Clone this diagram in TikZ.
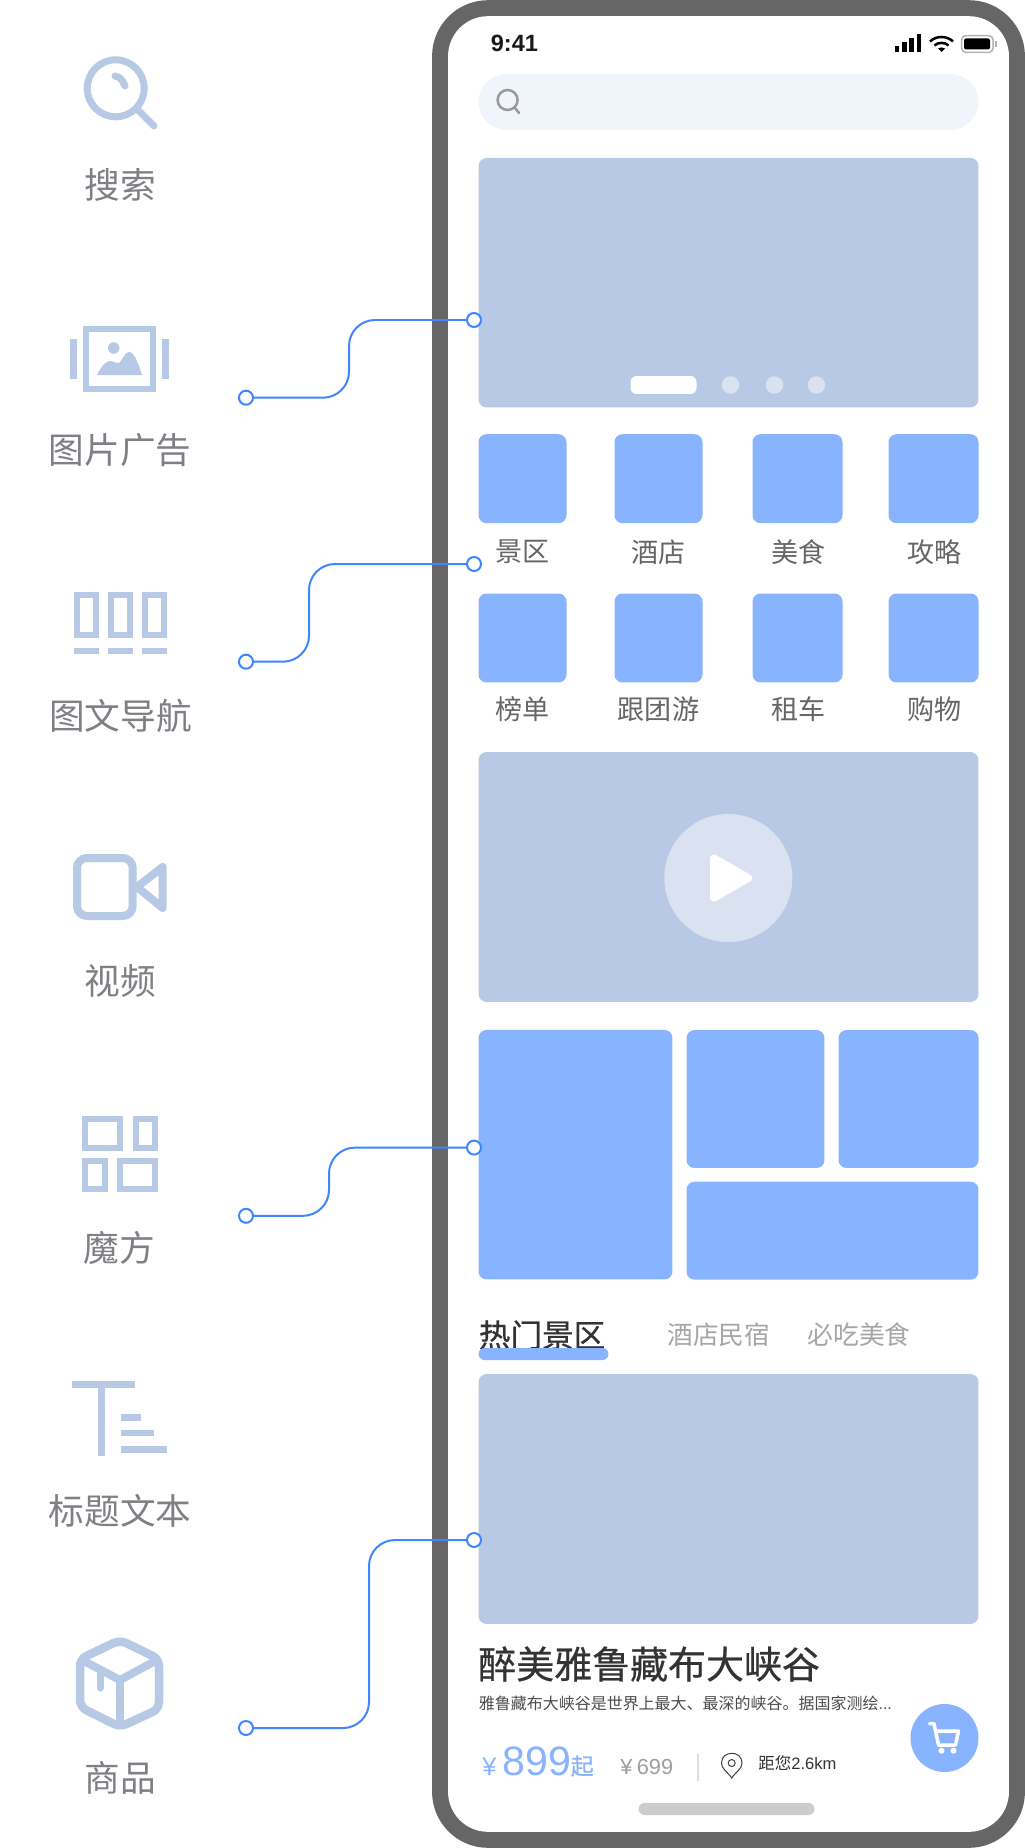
\documentclass[tikz,border=0pt]{standalone}
\usepackage{fontspec}
\setmainfont{Noto Sans CJK SC}
\newfontfamily\latinfont{Liberation Sans}
\newfontfamily\headfont[FakeBold=0.6]{Noto Sans CJK SC}
\definecolor{framegray}{HTML}{666666}
\definecolor{paleblue}{HTML}{B7C9E5}
\definecolor{softblue}{HTML}{88B3FF}
\definecolor{linkblue}{HTML}{3E85FF}
\definecolor{dotblue}{HTML}{DAE2F1}
\definecolor{barblue}{HTML}{F0F4FB}
\definecolor{labelgray}{HTML}{7F7F85}

\begin{document}
\begin{tikzpicture}[x=0.02cm,y=-0.02cm]
    \tikzset{panel/.style = {shape=rectangle, fill=paleblue, rounded corners=0.16cm, inner sep=0, outer sep=0}}
    \tikzset{tile/.style = {panel, fill=softblue}}
    \tikzset{navtile/.style = {tile, minimum width=1.76cm, minimum height=1.78cm}}
    \tikzset{pin/.style = {shape=circle, draw=linkblue, fill=white, line width=0.04cm, minimum size=0.28cm, inner sep=0, outer sep=0}}
    \tikzset{link/.style = {draw=linkblue, line width=0.04cm, rounded corners=0.52cm}}
    \tikzset{sidelabel/.style = {text=labelgray, inner sep=0, font=\fontsize{20.3}{24}\selectfont}}
    \tikzset{navlabel/.style = {text=framegray, inner sep=0, font=\fontsize{15.4}{18}\selectfont}}
    \tikzset{icon/.style = {draw=paleblue, line width=0.12cm}}
    \useasboundingbox (0,0) rectangle (1024,1848);
    \fill[white] (0,0) rectangle (1024,1848);
    % phone
    \node[panel, fill=framegray, rounded corners=1.12cm, minimum width=11.86cm, minimum height=36.96cm] (frame) at (728.5,924) {};
    \node[panel, fill=white, rounded corners=0.8cm, minimum width=11.22cm, minimum height=36.32cm] (screen) at (728.5,924) {};
    % status bar
    \node[anchor=west, inner sep=0, text=black!90, font=\latinfont\bfseries\fontsize{13.4}{16}\selectfont] (clock) at (490.5,43) {9:41};
    \fill[black] (895,45.7) rectangle (899.3,51.7);
    \fill[black] (902,41.7) rectangle (906.5,51.7);
    \fill[black] (909,38) rectangle (913.5,51.7);
    \fill[black] (917,34.3) rectangle (921.3,51.7);
    \draw[black, line width=0.05cm] (930,41.5) .. controls (936,35.5) and (947,35.5) .. (953,41.5);
    \draw[black, line width=0.05cm] (934.5,45.5) .. controls (938,42) and (945,42) .. (948.5,45.5);
    \fill[black] (938,48.5) .. controls (940,47) and (943,47) .. (945,48.5) -- (941.5,52) -- cycle;
    \draw[black!30, line width=0.03cm, rounded corners=0.08cm] (961.7,35.7) rectangle (993,52.3);
    \fill[black, rounded corners=0.04cm] (964,38.5) rectangle (990,49.5);
    \fill[black!30] (995,41) rectangle (996.5,47);
    % search bar
    \node[panel, fill=barblue, rounded corners=0.56cm, minimum width=10cm, minimum height=1.12cm] (searchbar) at (728.5,102) {};
    \draw[black!40, line width=0.05cm] (507.6,100) circle (10);
    \draw[black!40, line width=0.05cm, line cap=round] (515,108) -- (519,113);
    % banner
    \node[panel, minimum width=10cm, minimum height=4.99cm] (banner) at (728.5,282.7) {};
    \node[panel, fill=white, rounded corners=0.12cm, minimum width=1.32cm, minimum height=0.36cm] (dotlong) at (663.5,385) {};
    \node[shape=circle, fill=dotblue, minimum size=0.35cm, inner sep=0] (dota) at (730.5,385) {};
    \node[shape=circle, fill=dotblue, minimum size=0.35cm, inner sep=0] (dotb) at (774.5,385) {};
    \node[shape=circle, fill=dotblue, minimum size=0.35cm, inner sep=0] (dotc) at (816.5,385) {};
    % navigation
    \node[navtile] (scenic) at (522.5,478.7) {};
    \node[navtile] (hotel) at (658.5,478.7) {};
    \node[navtile, minimum width=1.8cm] (food) at (797.5,478.7) {};
    \node[navtile, minimum width=1.8cm] (guide) at (933.5,478.7) {};
    \node[navtile] (rank) at (522.5,638) {};
    \node[navtile] (tour) at (658.5,638) {};
    \node[navtile, minimum width=1.8cm] (rental) at (797.5,638) {};
    \node[navtile, minimum width=1.8cm] (shop) at (933.5,638) {};
    \node[navlabel] (scenictext) at (522.5,552) {景区};
    \node[navlabel] (hoteltext) at (658.5,552) {酒店};
    \node[navlabel] (foodtext) at (798.5,552) {美食};
    \node[navlabel] (guidetext) at (934.5,552) {攻略};
    \node[navlabel] (ranktext) at (522.5,709) {榜单};
    \node[navlabel] (tourtext) at (658.5,709) {跟团游};
    \node[navlabel] (rentaltext) at (798.5,709) {租车};
    \node[navlabel] (shoptext) at (934.5,709) {购物};
    % video
    \node[panel, minimum width=10cm, minimum height=5cm] (video) at (728.5,877) {};
    \node[shape=circle, fill=dotblue, minimum size=2.56cm, inner sep=0] (playdisc) at (728.3,878) {};
    \filldraw[white, line width=0.16cm, line join=round] (714,858.5) -- (748,878) -- (714,897.5) -- cycle;
    % cube
    \node[tile, minimum width=3.88cm, minimum height=4.99cm] (cubeleft) at (575.5,1154.7) {};
    \node[tile, minimum width=2.76cm, minimum height=2.76cm] (cubemid) at (755.5,1099) {};
    \node[tile, minimum width=2.8cm, minimum height=2.76cm] (cuberight) at (908.5,1099) {};
    \node[tile, minimum width=5.84cm, minimum height=1.96cm] (cubewide) at (832.5,1230.7) {};
    % tabs
    \node[anchor=west, inner sep=0, text=black!80, font=\headfont\fontsize{18}{20}\selectfont] (tabhot) at (478.5,1335) {热门景区};
    \node[panel, fill=softblue, rounded corners=0.12cm, minimum width=2.6cm, minimum height=0.24cm] (tabline) at (543.5,1354) {};
    \node[anchor=west, inner sep=0, text=black!35, font=\fontsize{14.6}{18}\selectfont] (tabstay) at (667,1335) {酒店民宿};
    \node[anchor=west, inner sep=0, text=black!35, font=\fontsize{14.7}{18}\selectfont] (tabeat) at (807,1335) {必吃美食};
    % product
    \node[panel, minimum width=10cm, minimum height=5cm] (product) at (728.5,1499) {};
    \node[anchor=west, inner sep=0, text=black!80, font=\headfont\fontsize{21.6}{26}\selectfont] (title) at (478,1664) {醉美雅鲁藏布大峡谷};
    \node[anchor=west, inner sep=0, text=black!70, font=\fontsize{9.1}{11}\selectfont] (summary) at (478.5,1703) {雅鲁藏布大峡谷是世界上最大、最深的峡谷。据国家测绘\latinfont...};
    \node[anchor=west, inner sep=0, text=softblue, font=\latinfont\fontsize{14.5}{15}\selectfont] (yen) at (482,1766.5) {¥};
    \node[anchor=west, inner sep=0, text=softblue, font=\latinfont\fontsize{23.4}{26}\selectfont] (price) at (502,1761) {899};
    \node[anchor=west, inner sep=0, text=softblue, font=\headfont\fontsize{13}{15}\selectfont] (pricefrom) at (570.5,1766) {起};
    \node[anchor=west, inner sep=0, text=black!38, font=\latinfont\fontsize{12.4}{14}\selectfont] (oldprice) at (620,1767) {¥\hspace{2.5pt}699};
    \draw[black!13, line width=0.03cm] (698,1754) -- (698,1781);
    \draw[black!75, line width=0.02cm] (731.7,1778) .. controls (727,1771) and (721.5,1769) .. (721.5,1763) .. controls (721.5,1750) and (742,1750) .. (742,1763) .. controls (742,1769) and (736.5,1771) .. (731.7,1778) -- cycle;
    \draw[black!75, line width=0.02cm] (731.7,1763) circle (3.5);
    \node[anchor=west, inner sep=0, text=black!80, font=\fontsize{9.4}{11}\selectfont] (distance) at (758,1763) {距您\latinfont 2.6km};
    \node[shape=circle, fill=softblue, minimum size=1.36cm, inner sep=0] (cart) at (944.5,1738) {};
    \draw[white, line width=0.07cm, line join=round, line cap=round] (929.5,1723.5) -- (934,1723.5) -- (938.5,1745) -- (955.5,1745) -- (958.5,1731) -- (935.5,1731);
    \fill[white] (941.5,1750.7) circle (3);
    \fill[white] (953.5,1750.7) circle (3);
    \node[panel, fill=black!20, rounded corners=0.12cm, minimum width=3.52cm, minimum height=0.24cm] (homebar) at (726.5,1809) {};
    % side icons
    \draw[icon, line width=0.14cm] (115.7,88.3) circle (28.5);
    \draw[icon, line width=0.14cm, line cap=round] (137,109) -- (154,126);
    \draw[icon, line width=0.14cm, line cap=round] (115,76) .. controls (121,78) .. (125,86);
    \node[sidelabel] (searchtext) at (120,184.5) {搜索};
    \draw[icon, line width=0.13cm] (86.2,329.2) rectangle (152.8,388.8);
    \fill[paleblue] (70,339) rectangle (77,379);
    \fill[paleblue] (162,339) rectangle (169,379);
    \fill[paleblue] (113.7,348) circle (5.8);
    \fill[paleblue] (97,375) .. controls (102,365) and (106,361) .. (110,361) .. controls (114,361) and (116,364) .. (119,363) .. controls (122,362) and (124,352) .. (129,352) .. controls (134,352) and (138,362) .. (142,375) -- cycle;
    \node[sidelabel] (adtext) at (120,450.5) {图片广告};
    \draw[icon] (77,595) rectangle (96,635);
    \draw[icon] (111,595) rectangle (130,635);
    \draw[icon] (145,595) rectangle (164,635);
    \fill[paleblue] (74,647.7) rectangle (99,653.7);
    \fill[paleblue] (108,647.7) rectangle (133,653.7);
    \fill[paleblue] (142,647.7) rectangle (167,653.7);
    \node[sidelabel] (guidetextb) at (120.5,715.5) {图文导航};
    \draw[icon, line width=0.16cm, rounded corners=0.2cm] (77,858) rectangle (132.7,916);
    \draw[icon, line width=0.16cm, line join=round] (137,887) -- (162.7,867) -- (162.7,908) -- cycle;
    \node[sidelabel] (videotext) at (120,980.5) {视频};
    \draw[icon] (85.3,1119) rectangle (120.3,1148.4);
    \draw[icon] (135.7,1119) rectangle (155,1148.4);
    \draw[icon] (85.3,1161) rectangle (104.7,1189);
    \draw[icon] (120,1161) rectangle (155,1189);
    \node[sidelabel] (cubetext) at (119.5,1247.7) {魔方};
    \fill[paleblue] (72,1380.7) rectangle (134.7,1387.8);
    \fill[paleblue] (98,1380.7) rectangle (105.3,1456);
    \fill[paleblue] (121,1413.7) rectangle (141,1420.5);
    \fill[paleblue] (121,1429.5) rectangle (154,1436.4);
    \fill[paleblue] (121,1446) rectangle (167,1453);
    \node[sidelabel] (titletext) at (120,1511) {标题文本};
    \draw[icon, line width=0.17cm, line join=round, rounded corners=0.14cm] (120,1640) -- (159,1659) -- (159,1709) -- (120,1727) -- (80,1707) -- (80,1659) -- cycle;
    \draw[icon, line width=0.16cm, line join=round] (80,1659) -- (120,1680) -- (159,1659);
    \draw[icon, line width=0.16cm] (120,1680) -- (120,1727);
    \draw[icon, line width=0.14cm, line cap=round] (100,1670) -- (100,1688);
    \node[sidelabel] (goodstext) at (120,1778) {商品};
    % connectors
    \node[pin] (adleft) at (246,397.7) {};
    \node[pin] (adright) at (474,320) {};
    \node[pin] (navleft) at (246,661.7) {};
    \node[pin] (navright) at (474,564) {};
    \node[pin] (cubeleftpin) at (246,1215.8) {};
    \node[pin] (cuberightpin) at (474,1147.6) {};
    \node[pin] (goodsleft) at (246,1728) {};
    \node[pin] (goodsright) at (474,1540) {};
    \draw[link] (adleft.east) -| (349,320) -- (adright.west);
    \draw[link] (navleft.east) -| (309,564) -- (navright.west);
    \draw[link] (cubeleftpin.east) -| (329,1147.6) -- (cuberightpin.west);
    \draw[link] (goodsleft.east) -| (369,1540) -- (goodsright.west);
\end{tikzpicture}
\end{document}
